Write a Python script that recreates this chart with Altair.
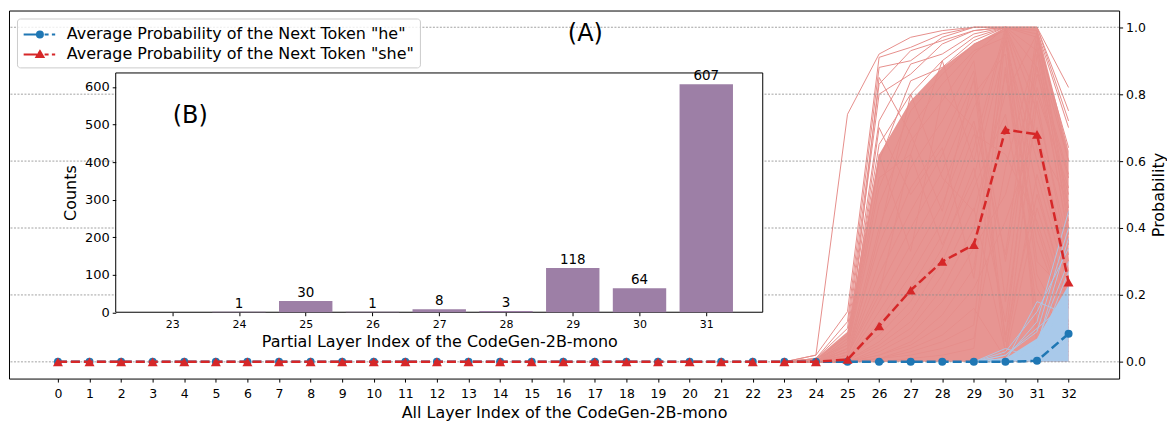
import altair as alt
import pandas as pd

# ---------------- data ----------------
all_layers = list(range(33))
he_avg = [0.0, 0.0, 0.0, 0.0, 0.0, 0.0, 0.0, 0.0, 0.0, 0.0, 0.0,
          0.0, 0.0, 0.0, 0.0, 0.0, 0.0, 0.0, 0.0, 0.0, 0.0, 0.0,
          0.0, 0.0, 0.0, 0.0, 0.0, 0.0, 0.0, 0.0, 0.0, 0.003, 0.084]
she_avg = [0.0, 0.0, 0.0, 0.0, 0.0, 0.0, 0.0, 0.0, 0.0, 0.0, 0.0,
           0.0, 0.0, 0.0, 0.0, 0.0, 0.0, 0.0, 0.0, 0.0, 0.0, 0.0,
           0.0, 0.0, 0.0, 0.007, 0.107, 0.214, 0.300, 0.350, 0.694, 0.680, 0.238]

fan_layers = [23, 24, 25, 26, 27, 28, 29, 30, 31, 32]
she_fan_core = [0.0, 0.01, 0.09, 0.62, 0.78, 0.88, 0.95, 1.0, 1.0, 0.63]
she_fan_lines = [
    [0, .02, .74, .92, .97, .99, 1.0, 1.0, 1.0, .82],
    [0, .02, .15, .91, .94, .98, 1.0, 1.0, 1.0, .75],
    [0, .01, .12, .88, .90, .97, 1.0, 1.0, 1.0, .72],
    [0, .01, .10, .83, .93, .96, .99, 1.0, .99, .70],
    [0, .005, .08, .80, .86, .95, .99, 1.0, .97, .64],
    [0, 0, .07, .72, .89, .92, .98, 1.0, .93, .60],
    [0, 0, .06, .65, .80, .90, .97, 1.0, .88, .56],
    [0, 0, .05, .60, .84, .88, .96, 1.0, .80, .52],
    [0, 0, .04, .52, .75, .86, .95, .99, .66, .48],
    [0, 0, .04, .47, .70, .83, .93, .97, .30, .20],
    [0, 0, .03, .40, .66, .78, .92, 1.0, .98, .44],
    [0, 0, .03, .35, .58, .72, .90, .18, .96, .40],
    [0, 0, .02, .30, .52, .66, .87, .06, .92, .36],
    [0, 0, .02, .26, .45, .62, .84, .02, .78, .30],
    [0, 0, .02, .22, .40, .57, .80, .92, .10, .05],
    [0, 0, .01, .18, .35, .52, .76, .96, .52, .17],
    [0, 0, .01, .15, .30, .47, .72, .32, .99, .46],
    [0, 0, .01, .12, .26, .42, .68, .62, .42, .12],
    [0, 0, .01, .10, .22, .38, .64, 1.0, .64, .32],
    [0, 0, .01, .08, .18, .34, .58, .12, .82, .50],
    [0, 0, .005, .06, .15, .30, .52, .74, .22, .06],
    [0, 0, .005, .05, .12, .26, .46, .03, .56, .22],
    [0, 0, 0, .04, .10, .22, .40, .86, .36, .11],
    [0, 0, 0, .03, .08, .18, .34, .50, .88, .38],
    [0, 0, 0, .02, .06, .14, .28, .99, .05, .02],
    [0, 0, 0, .02, .05, .11, .22, .42, .70, .27],
    [0, 0, 0, .01, .04, .08, .16, .01, .46, .16],
    [0, 0, 0, .01, .03, .06, .11, .97, .26, .08],
    [0, 0, 0, .01, .02, .04, .07, .58, .94, .42],
    [0, 0, 0, 0, .01, .02, .04, .88, .15, .03],
    [0, .01, .05, .55, .62, .35, .55, .95, .60, .25],
    [0, 0, .03, .70, .50, .64, .25, 1.0, .75, .35],
    [0, 0, .02, .85, .68, .45, .85, .30, .86, .55],
    [0, 0, .01, .38, .80, .55, .45, .80, .98, .60],
    [0, 0, .04, .62, .33, .80, .70, .08, .50, .18],
    [0, 0, .02, .20, .62, .90, .60, .99, .40, .10],
]

he_fan_layers = [29, 30, 31, 32]
he_fan_core = [0.0, 0.01, 0.07, 0.23]
he_fan_lines = [
    [0, .01, .12, .45],
    [0, .02, .09, .40],
    [0, .03, .15, .34],
    [0, 0, .06, .30],
    [0, .01, .03, .27],
    [0, .04, .01, .22],
    [0, .02, .10, .18],
    [0, 0, .18, .14],
    [0, .01, .05, .37],
]

prob_ticks = [0.0, 0.2, 0.4, 0.6, 0.8, 1.0]

inset_layers = [23, 24, 25, 26, 27, 28, 29, 30, 31]
inset_counts = [0, 1, 30, 1, 8, 3, 118, 64, 607]
count_ticks = [0, 100, 200, 300, 400, 500, 600]

legend_labels = ['Average Probability of the Next Token "he"',
                 'Average Probability of the Next Token "she"']

# ---------------- style / layout ----------------
FONT = "DejaVu Sans"
BLUE = "#1f77b4"
RED = "#d62728"
RED_FAN = "#e68f8c"
BLUE_FAN = "#a9c9ea"
PURPLE = "#9d7fa6"

W, H = 1113, 369
main_x_domain = [-1.55, 33.6]
main_y_domain = [-0.05, 1.05]
inset_x_domain = [22.154, 31.846]
inset_y_domain = [0, 637.35]
inset_x_range = [107, 755.7]
inset_y_range = [302.5, 62.6]

main_x_axis = alt.Axis(orient="bottom", values=all_layers, format="d", tickSize=3.5,
                       labelFontSize=12.5, labelPadding=5, labelFlush=False,
                       labelOverlap=False, domain=False, grid=False,
                       title="All Layer Index of the CodeGen-2B-mono",
                       titleFontSize=16, titlePadding=5)
main_y_axis = alt.Axis(orient="right", values=prob_ticks, format=".1f", tickSize=3.5,
                       labelFontSize=12.5, labelPadding=3, domain=False, grid=False,
                       labelFlush=False, title="Probability", titleFontSize=16,
                       titleAngle=270, titleBaseline="top", titlePadding=5)
inset_x_axis = alt.Axis(orient="bottom", offset=-(H - inset_y_range[0]), values=inset_layers,
                        format="d", tickSize=3.5, labelFontSize=11, labelPadding=3,
                        labelFlush=False, labelOverlap=False, domain=False, grid=False,
                        title="Partial Layer Index of the CodeGen-2B-mono",
                        titleFontSize=16, titlePadding=4, zindex=1)
inset_y_axis = alt.Axis(orient="left", offset=-inset_x_range[0], values=count_ticks,
                        format="d", tickSize=3.5, labelFontSize=13, labelPadding=3,
                        labelFlush=False, domain=False, grid=False,
                        title="Counts", titleFontSize=16, titlePadding=6, zindex=1)


def MX(field="layer"):
    return alt.X(f"{field}:Q", scale=alt.Scale(domain=main_x_domain, nice=False, zero=False),
                 axis=main_x_axis)


def MY(field="value"):
    return alt.Y(f"{field}:Q", scale=alt.Scale(domain=main_y_domain, nice=False, zero=False),
                 axis=main_y_axis)


def IX(field):
    return alt.X(f"{field}:Q", scale=alt.Scale(domain=inset_x_domain, range=inset_x_range,
                                               nice=False, zero=False), axis=inset_x_axis)


def IY(field):
    return alt.Y(f"{field}:Q", scale=alt.Scale(domain=inset_y_domain, range=inset_y_range,
                                               nice=False, zero=False), axis=inset_y_axis)


# ---------------- frames ----------------
she_lines_df = pd.DataFrame([{"line": i, "layer": L, "value": v}
                             for i, row in enumerate(she_fan_lines)
                             for L, v in zip(fan_layers, row)])
he_lines_df = pd.DataFrame([{"line": i, "layer": L, "value": v}
                            for i, row in enumerate(he_fan_lines)
                            for L, v in zip(he_fan_layers, row)])
avg_df = pd.DataFrame({"layer": all_layers, "he": he_avg, "she": she_avg})
inset_df = pd.DataFrame({"layer": inset_layers, "count": inset_counts})

# ---------------- main panel ----------------
area_red = alt.Chart(pd.DataFrame({"layer": fan_layers, "value": she_fan_core})).mark_area(
    color=RED_FAN, opacity=0.95).encode(x=MX(), y=MY(), y2=alt.datum(0))
lines_red = alt.Chart(she_lines_df).mark_line(color=RED_FAN, strokeWidth=1).encode(
    x=MX(), y=MY(), detail="line:N")
area_blue = alt.Chart(pd.DataFrame({"layer": he_fan_layers, "value": he_fan_core})).mark_area(
    color=BLUE_FAN, opacity=1).encode(x=MX(), y=MY(), y2=alt.datum(0))
lines_blue = alt.Chart(he_lines_df).mark_line(color=BLUE_FAN, strokeWidth=0.9).encode(
    x=MX(), y=MY(), detail="line:N")
grid = alt.Chart(pd.DataFrame({"value": prob_ticks})).mark_rule(
    color="#8c8c8c", strokeWidth=0.8, strokeDash=[2, 1.5]).encode(y=MY())

he_line = alt.Chart(avg_df).mark_line(color=BLUE, strokeWidth=2.5, strokeDash=[9, 4]).encode(
    x=MX(), y=MY("he"))
he_pts = alt.Chart(avg_df).mark_point(shape="circle", filled=True, size=64, color=BLUE,
                                      opacity=1).encode(x=MX(), y=MY("he"))
she_line = alt.Chart(avg_df).mark_line(color=RED, strokeWidth=2.5, strokeDash=[9, 4]).encode(
    x=MX(), y=MY("she"))
she_pts = alt.Chart(avg_df).mark_point(shape="triangle-up", filled=True, size=100, color=RED,
                                       opacity=1).encode(x=MX(), y=MY("she"))

he_path = ("M-0.93,0 L0.4,0 M1.17,0 L1.57,0 M1.9,0 L2.23,0 "
           "M1.0,0 A0.3,0.3 0 1,1 0.4,0 A0.3,0.3 0 1,1 1.0,0 Z")
she_path = ("M-0.93,0 L0.4,0 M1.17,0 L1.57,0 M1.9,0 L2.23,0 "
            "M0.7,-0.33 L1.05,0.27 L0.35,0.27 Z")
leg = alt.Legend(title=None, orient="none", legendX=8, legendY=8, symbolSize=400,
                 symbolStrokeWidth=2, labelFontSize=16, labelFont=FONT, labelColor="black",
                 labelLimit=600, labelOffset=23, padding=5, rowPadding=1,
                 fillColor="rgba(255,255,255,0.8)", strokeColor="#cccccc", cornerRadius=3)
legend_layer = alt.Chart(pd.DataFrame({"series": legend_labels})).transform_filter(
    "false").mark_point(filled=True, opacity=1, strokeWidth=2).encode(
    fill=alt.Fill("series:N", scale=alt.Scale(domain=legend_labels, range=[BLUE, RED]), legend=leg),
    stroke=alt.Stroke("series:N", scale=alt.Scale(domain=legend_labels, range=[BLUE, RED]), legend=leg),
    shape=alt.Shape("series:N", scale=alt.Scale(domain=legend_labels, range=[he_path, she_path]),
                    legend=leg),
)
ann_a = alt.Chart(pd.DataFrame({"layer": [16.7], "value": [0.98], "label": ["(A)"]})).mark_text(
    fontSize=24, font=FONT, color="black", baseline="middle").encode(x=MX(), y=MY(), text="label:N")

main = alt.layer(area_red, lines_red, area_blue, lines_blue, grid,
                 he_line, he_pts, she_line, she_pts, legend_layer, ann_a)

# ---------------- inset panel ----------------
frame = alt.Chart(pd.DataFrame({"x0": [inset_x_domain[0]], "x1": [inset_x_domain[1]],
                                "y0": [inset_y_domain[0]], "y1": [inset_y_domain[1]]})).mark_rect(
    fill="white", stroke="black", strokeWidth=1).encode(
    x=IX("x0"), x2="x1:Q", y=IY("y0"), y2="y1:Q")
bars = alt.Chart(inset_df).transform_calculate(
    x0="datum.layer - 0.4", x1="datum.layer + 0.4").mark_rect(color=PURPLE).encode(
    x=IX("x0"), x2="x1:Q", y=IY("count"), y2=alt.datum(0))
bar_labels = alt.Chart(inset_df).transform_filter("datum.count > 0").mark_text(
    fontSize=13.5, font=FONT, color="black", baseline="bottom", dy=-1).encode(
    x=IX("layer"), y=IY("count"), text="count:Q")
ann_b = alt.Chart(pd.DataFrame({"layer": [23.27], "count": [522], "label": ["(B)"]})).mark_text(
    fontSize=24, font=FONT, color="black", baseline="middle").encode(
    x=IX("layer"), y=IY("count"), text="label:N")

inset = alt.layer(frame, bars, bar_labels, ann_b)

chart = alt.layer(main, inset).resolve_scale(
    x="independent", y="independent"
).properties(
    width=W, height=H, padding={"left": 0, "top": 2, "right": 0, "bottom": 0}
).configure_view(
    stroke="black", strokeWidth=1
).configure_axis(
    labelFont=FONT, titleFont=FONT, titleFontWeight="normal", labelColor="black",
    titleColor="black", tickColor="black", tickWidth=1, domainColor="black"
).configure_text(font=FONT)

chart.save("out.html", embed_options={"renderer": "svg", "actions": False})
